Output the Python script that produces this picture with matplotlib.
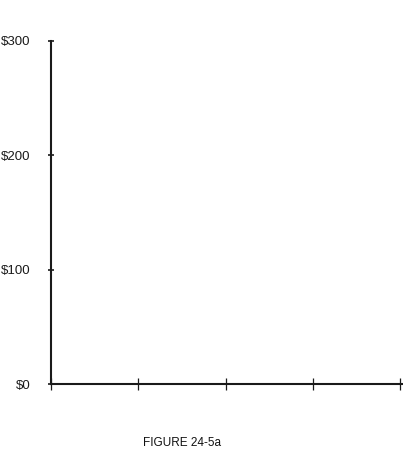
import matplotlib.pyplot as plt
from matplotlib import font_manager

# chart data: empty axes, only scales shown
y_ticks = [0, 100, 200, 300]
y_labels = ['$0', '$100', '$200', '$300']
x_ticks = [0, 1, 2, 3, 4]
title = 'FIGURE 24-5a'

names = {f.name for f in font_manager.fontManager.ttflist}
narrow = 'Liberation Sans Narrow' if 'Liberation Sans Narrow' in names else 'Liberation Sans'
plt.rcParams['font.family'] = [narrow, 'DejaVu Sans']

fig = plt.figure(figsize=(4.03, 4.70), dpi=100)
ax = fig.add_axes([51 / 403, 86 / 470, 352 / 403, 343 / 470])

ax.set_xlim(0, 4.034)
ax.set_ylim(0, 300)
ax.set_xticks(x_ticks)
ax.set_xticklabels([])
ax.set_yticks(y_ticks)
ax.set_yticklabels(y_labels)

for side in ['top', 'right']:
    ax.spines[side].set_visible(False)
for side in ['left', 'bottom']:
    ax.spines[side].set_linewidth(1.5)
    ax.spines[side].set_color('#1a1a1a')

ax.tick_params(axis='y', direction='inout', length=5, width=1.2, pad=12,
               labelsize=9.5, colors='#1a1a1a')
ax.tick_params(axis='x', direction='inout', length=9, width=0.9, colors='#1a1a1a')

fig.text(182 / 403, 1 - 443 / 470, title, ha='center', va='center',
         fontsize=8.5, color='#111111')

fig.savefig('out.png', dpi=100)
